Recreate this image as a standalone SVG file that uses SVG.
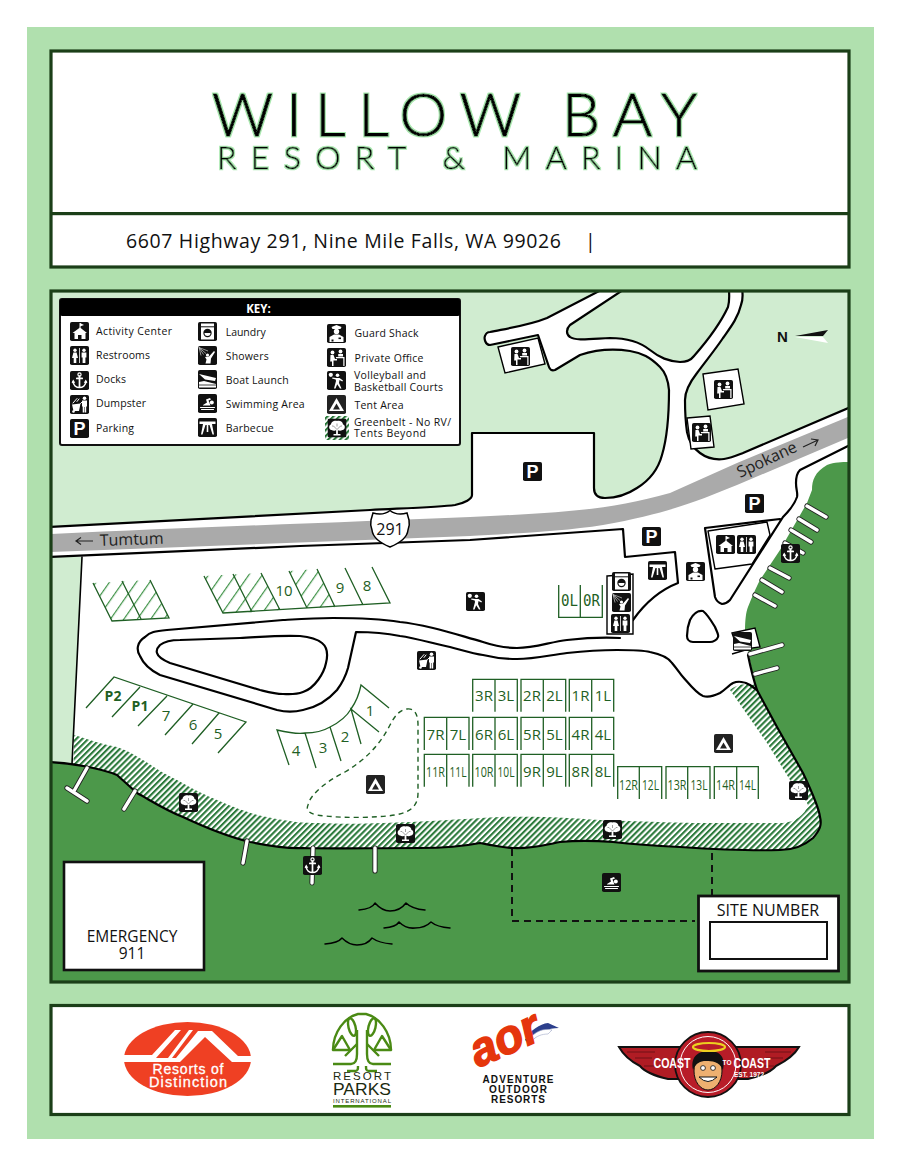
<svg xmlns="http://www.w3.org/2000/svg" width="899" height="1166" viewBox="0 0 899 1166">
<style>
text{font-family:"Open Sans","Noto Sans",sans-serif}
.panel{fill:#fff;stroke:#1b3f18;stroke-width:3.2}
.lg{fill:#d0ecd0;stroke:#000;stroke-width:2.2;stroke-linejoin:round}
.ln{fill:none;stroke:#000;stroke-width:2.2;stroke-linejoin:round;stroke-linecap:round}
.thin{fill:none;stroke:#000;stroke-width:1.4;stroke-linejoin:round}
.box{fill:#fff;stroke:#000;stroke-width:1.4}
.pier{fill:none;stroke:#222;stroke-width:5.2;stroke-linecap:round}
.pier2{fill:none;stroke:#fff;stroke-width:3.4;stroke-linecap:round}
.site{fill:none;stroke:#1f5f24;stroke-width:1.3}
.sl{fill:#1f5f24;font-size:15px;text-anchor:middle}
.key{font-size:10.5px;fill:#111}
.p{font-family:"Liberation Sans",sans-serif;font-weight:700;fill:#fff;font-size:18px;text-anchor:middle}
.w{fill:#fff}
.ws{fill:none;stroke:#fff;stroke-linecap:round;stroke-linejoin:round}
.title{font-family:Lato,sans-serif;font-weight:300;fill:#000;stroke:#000;stroke-width:1;filter:url(#halo)}
.logo{font-family:"Liberation Sans",sans-serif}
</style>
<defs>
<filter id="halo" x="-5%" y="-20%" width="110%" height="140%"><feMorphology in="SourceAlpha" operator="dilate" radius="1" result="d"/><feFlood flood-color="#a8e8ae"/><feComposite in2="d" operator="in"/><feMerge><feMergeNode/><feMergeNode in="SourceGraphic"/></feMerge></filter>
<clipPath id="mapclip"><rect x="51" y="291" width="798" height="691"/></clipPath>
<pattern id="belt" width="4.2" height="4.2" patternUnits="userSpaceOnUse" patternTransform="rotate(45)"><rect width="4.2" height="4.2" fill="#fff"/><rect width="2.1" height="4.2" fill="#2c7a3c"/></pattern>
<pattern id="sh" width="11" height="11" patternUnits="userSpaceOnUse" patternTransform="rotate(35)"><rect x="5" width="1.2" height="11" fill="#3f9247"/></pattern>
<symbol id="bg" viewBox="0 0 19 19"><rect width="19" height="19" rx="1.8" fill="#111"/></symbol>
<symbol id="i-activity" viewBox="0 0 19 19"><rect width="19" height="19" rx="1.8" fill="#111"/><path class="w" d="M2.5,11 L10,5.5 L17,11 L15.5,11 V17 H11.5 V13 H8 V17 H4.5 V11Z"/><path class="ws" stroke-width="1" d="M10,6 V1.5"/><path class="w" d="M10,1 L14,3 L10,4.5Z"/></symbol>
<symbol id="i-rest" viewBox="0 0 19 19"><rect width="19" height="19" rx="1.8" fill="#111"/><circle class="w" cx="5" cy="4.2" r="1.7"/><path class="w" d="M3.4,6.5 H6.6 L8,12 H6.3 V17 H3.7 V12 H2Z"/><rect class="w" x="9.1" y="2" width=".8" height="15"/><circle class="w" cx="14" cy="4.2" r="1.7"/><path class="w" d="M11.6,6.5 H16.4 V11.5 H15.4 V17 H12.6 V11.5 H11.6Z"/></symbol>
<symbol id="i-anchor" viewBox="0 0 19 19"><rect width="19" height="19" rx="1.8" fill="#111"/><circle class="ws" stroke-width="1.2" cx="9.5" cy="3.5" r="1.6"/><path class="ws" stroke-width="1.7" d="M9.5,5 V16.5 M6.8,7.4 H12.2 M3,10.5 C3.5,14.5 6.5,16.5 9.5,16.5 C12.5,16.5 15.5,14.5 16,10.5"/><path class="w" d="M1.6,12 L3.2,8.5 L5.2,11.8Z M17.4,12 L15.8,8.5 L13.8,11.8Z"/></symbol>
<symbol id="i-dump" viewBox="0 0 19 19"><rect width="19" height="19" rx="1.8" fill="#111"/><circle class="w" cx="14.5" cy="3.2" r="1.8"/><path class="w" d="M12,5.5 H17 V11.5 H16.2 V17.5 H14.7 V12 H14.2 V17.5 H12.7 V11.5 H12Z"/><path class="w" d="M2,9.5 L10.5,8.5 L9,16 H3.5Z"/><circle class="w" cx="3.5" cy="16.5" r="1.3"/><path class="ws" stroke-width="1" d="M3,8 L7,3.5 M7,6.5 L9,4 M10.5,8.5 L12,7"/></symbol>
<symbol id="i-laundry" viewBox="0 0 19 19"><rect width="19" height="19" rx="1.8" fill="#111"/><rect class="w" x="3" y="1.5" width="13" height="16"/><rect x="3" y="4.3" width="13" height="1" fill="#111"/><circle cx="9.5" cy="11" r="4.2" fill="#111"/><path class="w" d="M6.5,11 A3,3 0 0 0 12.5,11Z"/></symbol>
<symbol id="i-shower" viewBox="0 0 19 19"><rect width="19" height="19" rx="1.8" fill="#111"/><path stroke="#ccc" stroke-width=".7" fill="none" d="M1,1.5 L10,5 M1,1.5 L8,7.5 M1,1.5 L5.5,8.5 M1,1.5 L3,9.5"/><circle class="w" cx="9.5" cy="9" r="1.6"/><path class="w" d="M7,11 L11,10.5 L16,5 L17,6 L13,12.5 L12.5,17.5 H7.5 L8.5,13.5Z"/></symbol>
<symbol id="i-boat" viewBox="0 0 19 19"><rect width="19" height="19" rx="1.8" fill="#111"/><path class="w" d="M1,4 L18,8 L17,11 L7,9.5Z M1,12 L6,11 L18,14 V17.5 H1Z"/><path stroke="#111" stroke-width=".8" d="M1,15 H18"/></symbol>
<symbol id="i-swim" viewBox="0 0 19 19"><rect width="19" height="19" rx="1.8" fill="#111"/><circle class="w" cx="13.8" cy="8.5" r="2"/><path class="w" d="M5,11 L9,8.5 L8,5.5 L12,4 L13,5.5 L10.5,6.5 L12.5,11.5 H5Z"/><path class="ws" stroke-width="1.1" d="M2.5,13.5 H16.5 M3.5,15.5 H15.5"/></symbol>
<symbol id="i-bbq" viewBox="0 0 19 19"><rect width="19" height="19" rx="1.8" fill="#111"/><path class="w" d="M1.5,3.5 H17.5 V6 H14 L16,16.5 H14.5 L11.5,7 H10.3 V14 H8.7 V7 H7.5 L4.5,16.5 H3 L5,6 H1.5Z"/></symbol>
<symbol id="i-guard" viewBox="0 0 19 19"><rect width="19" height="19" rx="1.8" fill="#111"/><path class="w" d="M4.5,3 L9.5,1 L14.5,3 L13.5,5 H5.5Z"/><circle class="w" cx="9.5" cy="7.5" r="2.7"/><path class="w" d="M2.5,18 V13 L7,10.5 H12 L16.5,13 V18Z"/><rect x="11.5" y="13.5" width="2.5" height="1.6" fill="#111"/><rect x="4.5" y="15.5" width="2" height="2" fill="#111"/></symbol>
<symbol id="i-office" viewBox="0 0 19 19"><rect width="19" height="19" rx="1.8" fill="#111"/><circle class="w" cx="5.5" cy="4.5" r="1.9"/><circle class="w" cx="13.5" cy="3.5" r="1.9"/><path class="w" d="M3.5,7 H6.5 L8,11 H10 V12.5 H6.5 V18 H5 V13.5 H3.2Z"/><path class="w" d="M11.2,6 H16 V8.5 H11.2Z M9,9 H17.5 V18 H16.3 V10.2 H9Z"/></symbol>
<symbol id="i-vball" viewBox="0 0 19 19"><rect width="19" height="19" rx="1.8" fill="#111"/><circle class="w" cx="3.8" cy="3.8" r="2.1"/><circle class="w" cx="10.5" cy="4.2" r="1.8"/><path class="w" d="M5.5,6.5 L9,7 H12.5 L16,9.5 L15.3,10.5 L12.5,9 L12,12 L14.5,17.5 H13 L10.2,13.2 L8.5,17.5 H7 L9,10 L8.7,8.5 L5,7.5Z"/></symbol>
<symbol id="i-tent" viewBox="0 0 19 19"><rect width="19" height="19" rx="1.8" fill="#222"/><path class="w" d="M9.5,3 L17,16 H2Z"/><path fill="#222" d="M9.5,8.5 L13,14.5 H6Z"/></symbol>
<symbol id="i-tree" viewBox="0 0 19 19"><rect width="19" height="19" rx="1.8" fill="#111"/><path class="w" d="M4,11.5 C1,11 1,6.5 3.5,6 C3.5,2.5 8,1.5 9.5,2.5 C11.5,1.5 15.5,2.5 15.5,6 C18,6.5 18,11 15,11.5 C13,12.8 11,12 10.4,11.8 V15.5 H13 V17 H6 V15.5 H8.6 V11.8 C8,12 6,12.8 4,11.5Z"/><path stroke="#777" stroke-width=".7" fill="none" d="M9.5,11 L6,7.5 M9.5,11 L13,7.5 M9.5,8 V5 M6,7.5 L4.5,7.5 M13,7.5 L14.5,7.5"/></symbol>
</defs>

<rect width="899" height="1166" fill="#fff"/>
<rect x="27" y="27" width="847" height="1112" fill="#b0e0ae"/>

<g id="header">
<rect class="panel" x="51" y="51" width="798" height="216"/>
<rect x="51" y="212" width="798" height="3.2" fill="#1b3f18"/>
<text class="title" x="212" y="136" font-size="60" textLength="485">WILLOW BAY</text>
<text class="title" x="217" y="169" font-size="32" textLength="480" style="stroke-width:.5">RESORT &amp; MARINA</text>
<text x="126" y="248" font-size="19.5" fill="#111" textLength="435">6607 Highway 291, Nine Mile Falls, WA 99026</text>
<text x="585" y="248" font-size="19.5" fill="#111">|</text>
</g>

<g id="map" clip-path="url(#mapclip)">
<rect x="51" y="291" width="798" height="691" fill="#fff"/>
<g id="north-land">
<path class="lg" d="M40,527.5 L370,510 C410,508 440,507 455,505 C465,503 472,499 472,495 V433 H594 V488 C594,495 598,498 605,498 C618,498 628,494 637,488 C650,480 658,470 662,455 C668,435 669,410 669,390 C668,378 665,372 660,367 C650,357 642,353 630,351 C610,348 595,350 580,355 L555,370 C552,371 550,370 549,367 L538,335 L490,345 C485,345 484,338 485,336 C486,333 488,332 490,332 C510,328 530,325 547,318 L605,288 H40Z"/>
<path class="lg" d="M626,288 L570,325 C566,329 566,334 570,337 C575,341 590,339 610,338 C625,338 640,342 650,350 C660,358 668,361 680,362 C686,362 691,360 694,356 C708,340 722,320 728,307 C730,300 729,295 729,288Z"/>
<path class="lg" d="M742,288 C743,295 743,300 741,305 C738,318 730,328 723,338 C715,350 705,362 697,373 C690,382 685,390 685,400 C685,415 686,425 687,432 C689,442 693,448 700,453 C708,459 716,460 724,459 C732,458 738,455 743,453 L860,403 V288Z"/>
</g>
<path d="M52,557 L82,557 L72,764 L52,763Z" fill="#d0ecd0"/>
<path d="M82,557 L72,764" class="ln" style="stroke-width:1.6"/>

<g id="highway">
<path fill="#aaa" d="M50,534 C200,527 350,522 470,517 C560,513 610,510 670,493 L737,463 L850,416 V437 L737,485 C700,500 670,513 603,525 C560,532 500,534 470,536 L50,552Z"/>
<path class="ln" d="M50,557 L300,546 L470,540 L623,529 L625,557 L675,552 L678,583 C660,590 645,603 633,620"/>
<text x="100" y="546" font-size="16" fill="#222" transform="rotate(-2 100 546)">Tumtum</text>
<path fill="none" stroke="#222" stroke-width="1.2" d="M93,541 H76 M81,537.5 L76,541 L81,544.5"/>
<text x="740" y="478" font-size="16" fill="#222" transform="rotate(-25 740 478)">Spokane</text>
<path fill="none" stroke="#222" stroke-width="1.2" d="M803,447 L818,440 M811,439 L818,440 L815,446"/>
</g>

<g id="greenbelt"><path fill="url(#belt)" d="M74,735 C90,740 105,745 117,747 C140,755 155,770 177,780 C195,790 205,795 217,800 C240,810 255,815 267,817 C290,822 305,823 317,823 C340,824 360,824 383,823 C420,822 460,819 500,817 C540,816 570,818 600,820 C650,822 690,823 700,823 L783,823 C795,822 805,815 808,805 C805,798 797,790 790,780 L767,743 L730,690 C738,683 748,684 757,685 L790,720 L830,820 L800,860 L72,860Z"/></g>

<g id="water">
<path fill="#4c984a" d="M50,762 C70,763 100,768 117,775 L137,793 C150,800 165,810 183,817 C200,825 225,836 250,842 C270,846 290,849 303,848 C330,849 370,848 420,848 C445,848 465,846 480,843 C495,846 505,848 513,848 C530,849 545,845 560,842 C580,840 600,841 613,842 C640,845 660,846 680,847 C710,849 750,851 780,850 C795,850 805,845 813,838 C820,830 822,825 820,817 C819,808 811,790 803,773 L777,727 L757,690 C752,675 748,650 745,630 C745,620 746,612 748,607 C752,597 755,590 760,580 L780,550 L807,503 L812,490 C812,480 815,472 827,465 C835,462 842,462 850,462 V982 H50Z"/>
<path class="ln" d="M50,762 C70,763 100,768 117,775 L137,793 C150,800 165,810 183,817 C200,825 225,836 250,842 C270,846 290,849 303,848 C330,849 370,848 420,848 C445,848 465,846 480,843 C495,846 505,848 513,848 C530,849 545,845 560,842 C580,840 600,841 613,842 C640,845 660,846 680,847 C710,849 750,851 780,850 C795,850 805,845 813,838 C820,830 822,825 820,817 C819,808 811,790 803,773 L777,727 L757,690 C753,678 750,665 748,655"/>
</g>

<g id="roads">
<path class="ln" d="M620,638 C600,637 585,638 567,640 C550,642 535,648 517,648 C505,648 495,646 483,642 C465,637 450,632 433,628 C420,625 410,623 400,622 C375,618 350,618 333,618 C315,618 300,619 283,620 L167,630 C155,631 150,632 145,637 C137,642 136,650 140,656 C143,663 150,670 160,675 L277,710 C285,712 295,712 303,710 C318,707 330,698 337,690 C343,682 346,675 348,668 L356,632 C370,632 385,633 400,636 C415,638 435,644 450,647 C465,651 475,654 483,655 C495,658 505,659 517,659 C535,659 550,655 567,653 C585,651 600,650 617,650 C630,650 642,650 650,652 C660,654 668,657 672,663 C678,670 680,674 683,677 C690,685 697,694 703,696 C710,698 716,695 720,693 C725,690 729,685 733,683 C738,681 745,682 750,685 L757,690"/>
<path class="ln" d="M160,645 C165,641 170,640 180,640 L240,638 C260,637 280,635 300,636 C310,637 317,639 322,643 C327,647 328,655 326,663 C324,673 315,688 303,692 C295,695 288,694 283,694 C275,694 268,692 260,690 L170,663 C163,660 158,657 157,653 C156,650 157,648 160,645Z"/>
<path class="ln" d="M703,611 C708,615 712,622 715,627 C717,632 719,635 718,637 C717,640 713,642 710,642 L693,642 C689,642 687,639 687,636 C687,630 688,625 690,620 C693,614 698,610 703,611Z"/>
<path class="ln" d="M850,445 L800,470 C797,473 796,478 796,483 C796,490 798,493 797,497 C795,503 790,510 783,517 L730,600 C727,603 724,604 722,604 C719,603 716,600 715,597 L705,528 L780,519"/>
<path class="thin" d="M708,531 L767,522 L770,535 L752,564 L715,569Z"/>
</g>

<g id="piers">
<path class="pier" d="M807,506 L826,517 M799,519 L817,530 M791,530 L811,542 M785,543 L803,553 M770,568 L789,578 M762,580 L782,592 M755,595 L775,606 M750,654 L782,645 M755,674 L777,668 M87,768 L74,791 M67,788 L87,801 M135,791 L124,809 M247,841 L243,863 M375,848 V871 M313,848 L312,883"/>
<path class="pier2" d="M807,506 L826,517 M799,519 L817,530 M791,530 L811,542 M785,543 L803,553 M770,568 L789,578 M762,580 L782,592 M755,595 L775,606 M750,654 L782,645 M755,674 L777,668 M87,768 L74,791 M67,788 L87,801 M135,791 L124,809 M247,841 L243,863 M375,848 V871 M313,848 L312,883"/>
</g>

<g id="buildings">
<path class="box" d="M498,347 L538,338 L545,364 L505,373Z"/>
<path class="box" d="M703,374 L738,369 L744,404 L708,410Z"/>
<path class="box" d="M687,418 L710,416 L714,447 L691,449Z"/>
<path class="box" d="M607,576 L633,574 V634 H607Z"/>
<path class="box" d="M732,633 L755,628 L760,647 L738,650Z"/>
<path class="thin" d="M732,654 L752,648"/>
</g>

<g id="sites">
<path fill="url(#sh)" d="M93,583 L150,580 L169,618 L112,621Z M204,576 L261,573 L280,610 L223,613Z M289,571 L317,569 L335,607 L307,608Z"/>
<path class="site" d="M93,583 L112,621 L169,618 L150,580 M122,581 L141,619"/>
<path class="site" d="M204,576 L223,613 L390,603 L372,567 M233,574 L252,612 M261,573 L280,610 M289,571 L307,608 M317,569 L335,607 M345,568 L363,605"/>
<path class="site" d="M86,708 L114,677 L246,722 L218,753 M140,687 L112,717 M167,696 L138,726 M193,704 L165,735 M219,713 L192,744"/>
<path class="site" d="M289,765 L277,730 C290,733 300,734 305,733 C315,733 325,730 330,727 C340,722 347,716 351,709 C356,702 359,695 361,685 L389,708 M316,768 L305,733 M341,761 L330,727 M361,744 L351,709 L379,732"/>
<path d="M407,709 C415,708 418,715 418,725 L418,793 C418,805 412,812 395,815 C375,818 345,818 325,816 C312,815 305,812 308,805 C310,795 325,782 345,772 C365,760 380,745 390,725 C395,715 400,710 407,709Z" fill="none" stroke="#1f5f24" stroke-width="1.4" stroke-dasharray="5 4"/>
<path class="site" d="M472.7,711.7 V679.3 H517.3 V711.7 M495,679.3 V711.7 M521,711.7 V679.3 H565.7 V711.7 M543.3,679.3 V711.7 M569.3,711.7 V679.3 H613.7 V711.7 M591.7,679.3 V711.7"/>
<path class="site" d="M424.3,750 V717.3 H469 V750 M446.7,717.3 V750 M472.7,750 V717.3 H517.3 V750 M495,717.3 V750 M521,750 V717.3 H565.7 V750 M543.3,717.3 V750 M569.3,750 V717.3 H613.7 V750 M591.7,717.3 V750"/>
<path class="site" d="M424.3,786.7 V754.3 H469 V786.7 M446.7,754.3 V786.7 M472.7,786.7 V754.3 H517.3 V786.7 M495,754.3 V786.7 M521,786.7 V754.3 H565.7 V786.7 M543.3,754.3 V786.7 M569.3,786.7 V754.3 H613.7 V786.7 M591.7,754.3 V786.7"/>
<path class="site" d="M617.7,799 V766.7 H661.7 V799 M639.3,766.7 V799 M666,799 V766.7 H710 V799 M687.7,766.7 V799 M714.3,799 V766.7 H758.3 V799 M736.7,766.7 V799"/>
<path class="site" d="M558.7,585 V617.3 H602.3 V585 M580.3,585 V617.3"/>
<text class="sl" x="284" y="596">10</text><text class="sl" x="340" y="593">9</text><text class="sl" x="367" y="591">8</text>
<text class="sl" x="113" y="701" style="font-weight:700;font-size:14px">P2</text><text class="sl" x="140" y="711" style="font-weight:700;font-size:14px">P1</text>
<text class="sl" x="166" y="721">7</text><text class="sl" x="193" y="730">6</text><text class="sl" x="218" y="739">5</text>
<text class="sl" x="370" y="716">1</text><text class="sl" x="345" y="742">2</text><text class="sl" x="323" y="753">3</text><text class="sl" x="296" y="756">4</text>
<text class="sl" style="font-family:'DejaVu Sans Mono',monospace;font-size:16px" x="569.5" y="606" textLength="17" lengthAdjust="spacingAndGlyphs">0L</text><text class="sl" style="font-family:'DejaVu Sans Mono',monospace;font-size:16px" x="591.5" y="606" textLength="17" lengthAdjust="spacingAndGlyphs">0R</text>
<text class="sl" x="484" y="701">3R</text><text class="sl" x="506" y="701">3L</text><text class="sl" x="532" y="701">2R</text><text class="sl" x="554.5" y="701">2L</text><text class="sl" x="580.5" y="701">1R</text><text class="sl" x="603" y="701">1L</text>
<text class="sl" x="435.5" y="740">7R</text><text class="sl" x="458" y="740">7L</text><text class="sl" x="484" y="740">6R</text><text class="sl" x="506" y="740">6L</text><text class="sl" x="532" y="740">5R</text><text class="sl" x="554.5" y="740">5L</text><text class="sl" x="580.5" y="740">4R</text><text class="sl" x="603" y="740">4L</text>
<text class="sl" x="435.5" y="777" textLength="19" lengthAdjust="spacingAndGlyphs">11R</text><text class="sl" x="458" y="777" textLength="17" lengthAdjust="spacingAndGlyphs">11L</text><text class="sl" x="484" y="777" textLength="19" lengthAdjust="spacingAndGlyphs">10R</text><text class="sl" x="506" y="777" textLength="17" lengthAdjust="spacingAndGlyphs">10L</text><text class="sl" x="532" y="777">9R</text><text class="sl" x="554.5" y="777">9L</text><text class="sl" x="580.5" y="777">8R</text><text class="sl" x="603" y="777">8L</text>
<text class="sl" x="628.5" y="790" textLength="19" lengthAdjust="spacingAndGlyphs">12R</text><text class="sl" x="650.5" y="790" textLength="17" lengthAdjust="spacingAndGlyphs">12L</text><text class="sl" x="677" y="790" textLength="19" lengthAdjust="spacingAndGlyphs">13R</text><text class="sl" x="699" y="790" textLength="17" lengthAdjust="spacingAndGlyphs">13L</text><text class="sl" x="725.5" y="790" textLength="19" lengthAdjust="spacingAndGlyphs">14R</text><text class="sl" x="747.5" y="790" textLength="17" lengthAdjust="spacingAndGlyphs">14L</text>
</g>

<g id="shield">
<path fill="#fff" stroke="#000" stroke-width="1.5" d="M390,510.5 Q383,516 373,513 L371,520 Q370,525 372,530 Q373,540 390,547 Q407,540 408,530 Q410,525 409,520 L407,513 Q397,516 390,510.5Z"/>
<text x="390" y="535" font-size="16" fill="#111" text-anchor="middle">291</text>
</g>

<g id="north">
<text x="777" y="342" font-size="15" font-weight="700" fill="#111" style="font-family:'Liberation Sans',sans-serif">N</text>
<path fill="#111" d="M795,336 L828,330 L823,336Z"/><path fill="#fff" d="M795,337 L823,337 L828,343Z"/>
</g>

<g id="waves" class="ln" style="stroke-width:1.5">
<path fill="none" d="M359,910 Q372,909 375,903 Q382,911 390,911 Q400,911 406,903 Q412,909 425,910"/>
<path fill="none" d="M384,928 Q396,927 399,922 Q406,929 415,928 Q425,928 431,922 Q437,927 450,928"/>
<path fill="none" d="M325,944 Q338,943 342,938 Q349,945 357,945 Q367,945 372,938 Q379,943 392,944"/>
</g>
<path d="M512,849 V921 H695 M712,853 V895" fill="none" stroke="#111" stroke-width="2" stroke-dasharray="7 5"/>

<g id="icons">
<use href="#i-office" x="511" y="347" width="19" height="19"/>
<use href="#i-office" x="714" y="380" width="19" height="19"/>
<use href="#i-office" x="692" y="423" width="19" height="19"/>
<use href="#bg" x="523" y="462" width="19" height="19"/><text class="p" x="532.5" y="478">P</text>
<use href="#bg" x="745" y="494" width="19" height="19"/><text class="p" x="754.5" y="510">P</text>
<use href="#bg" x="642" y="527" width="19" height="19"/><text class="p" x="651.5" y="543">P</text>
<use href="#i-bbq" x="648" y="561" width="19" height="19"/>
<use href="#i-guard" x="686" y="562" width="19" height="19"/>
<use href="#i-activity" x="716" y="535" width="19" height="19"/>
<use href="#i-rest" x="737" y="535" width="19" height="19"/>
<use href="#i-anchor" x="781" y="544" width="19" height="19"/>
<use href="#i-laundry" x="612" y="572" width="19" height="19"/>
<use href="#i-shower" x="612" y="593" width="19" height="19"/>
<use href="#i-rest" x="611" y="614" width="19" height="19"/>
<use href="#i-vball" x="466" y="592" width="19" height="19"/>
<use href="#i-dump" x="417" y="651" width="19" height="19"/>
<use href="#i-boat" x="733" y="632" width="19" height="19"/>
<use href="#i-tent" x="366" y="775" width="19" height="19"/>
<use href="#i-tent" x="714" y="734" width="19" height="19"/>
<use href="#i-tree" x="179" y="793" width="19" height="19"/>
<use href="#i-tree" x="396" y="824" width="19" height="19"/>
<use href="#i-tree" x="603" y="820" width="19" height="19"/>
<use href="#i-tree" x="789" y="781" width="19" height="19"/>
<use href="#i-anchor" x="303" y="856" width="19" height="19"/>
<use href="#i-swim" x="602" y="873" width="19" height="19"/>
</g>

<g id="emergency">
<rect x="64" y="862" width="140" height="108" fill="#fff" stroke="#111" stroke-width="2.6"/>
<text x="132" y="942" font-size="15.5" fill="#111" text-anchor="middle">EMERGENCY</text>
<text x="132" y="959" font-size="15.5" fill="#111" text-anchor="middle">911</text>
</g>
<g id="site-number">
<rect x="698.5" y="896" width="140" height="75" fill="#fff" stroke="#111" stroke-width="2.8"/>
<rect x="710" y="922" width="117" height="37" fill="#fff" stroke="#111" stroke-width="2"/>
<text x="768" y="916" font-size="16" fill="#111" text-anchor="middle">SITE NUMBER</text>
</g>

<g id="key">
<rect x="60" y="299" width="400" height="146" rx="2" fill="#fff" stroke="#111" stroke-width="2"/>
<rect x="60" y="299" width="400" height="17" rx="2" fill="#000"/>
<text x="258.5" y="312.5" font-size="11.5" font-weight="700" fill="#fff" text-anchor="middle">KEY:</text>
<use href="#i-activity" x="70" y="322" width="19" height="19"/><text class="key" x="96" y="335" textLength="76">Activity Center</text>
<use href="#i-rest" x="70" y="346" width="19" height="19"/><text class="key" x="96" y="359.3" textLength="54">Restrooms</text>
<use href="#i-anchor" x="70" y="371" width="19" height="19"/><text class="key" x="96" y="383.3" textLength="30">Docks</text>
<use href="#i-dump" x="70" y="395" width="19" height="19"/><text class="key" x="96" y="407.3" textLength="50">Dumpster</text>
<use href="#bg" x="70" y="419" width="19" height="19"/><text class="p" x="79.5" y="435">P</text><text class="key" x="96" y="431.7" textLength="38">Parking</text>
<use href="#i-laundry" x="198" y="322" width="19" height="19"/><text class="key" x="225.7" y="336" textLength="40">Laundry</text>
<use href="#i-shower" x="198" y="346" width="19" height="19"/><text class="key" x="225.7" y="360" textLength="43">Showers</text>
<use href="#i-boat" x="198" y="370" width="19" height="19"/><text class="key" x="225.7" y="384" textLength="63">Boat Launch</text>
<use href="#i-swim" x="198" y="394" width="19" height="19"/><text class="key" x="225.7" y="408" textLength="79">Swimming Area</text>
<use href="#i-bbq" x="198" y="418" width="19" height="19"/><text class="key" x="225.7" y="432" textLength="48">Barbecue</text>
<use href="#i-guard" x="327" y="324" width="19" height="19"/><text class="key" x="354.5" y="337" textLength="64">Guard Shack</text>
<use href="#i-office" x="327" y="348" width="19" height="19"/><text class="key" x="354.5" y="361.7" textLength="69">Private Office</text>
<use href="#i-vball" x="327" y="371" width="19" height="19"/><text class="key" x="354" y="379" textLength="72">Volleyball and</text><text class="key" x="354" y="390.7" textLength="89">Basketball Courts</text>
<use href="#i-tent" x="327" y="395" width="19" height="19"/><text class="key" x="354.5" y="409" textLength="49">Tent Area</text>
<rect x="325" y="416" width="24" height="24" fill="url(#belt)"/><use href="#i-tree" x="327.5" y="418.5" width="19" height="19"/><text class="key" x="354" y="426" textLength="97">Greenbelt - No RV/</text><text class="key" x="354" y="437.3" textLength="72">Tents Beyond</text>
</g>
</g>
<rect x="51" y="291" width="798" height="691" fill="none" stroke="#1b3f18" stroke-width="3.2"/>

<g id="logos">
<rect class="panel" x="51" y="1005.5" width="798" height="109"/>
<g id="logo-resorts-of-distinction">
<ellipse cx="187.5" cy="1059" rx="63.5" ry="37" fill="#ef4023"/>
<path fill="#fff" d="M124,1055 H152 L175,1030 H181 L156,1058 H168 L189,1030 H193 L172,1058 H176 L198,1031 L212,1031 L238,1056 H251 V1062 H232 L205,1037 L180,1062 H124Z"/>
<text class="logo" x="188" y="1074" font-size="14" fill="#fff" stroke="#fff" stroke-width=".3" text-anchor="middle" textLength="71">Resorts of</text>
<text class="logo" x="188" y="1087" font-size="14.5" fill="#fff" stroke="#fff" stroke-width=".3" text-anchor="middle" textLength="78">Distinction</text>
</g>
<g id="logo-resort-parks">
<g fill="none" stroke="#4a8a14" stroke-width="2.4" stroke-linejoin="round">
<path d="M333,1050 C333,1032 345,1017 358,1014 H366 C379,1017 391,1032 391,1050"/>
<path d="M333,1050 H350 L342,1036Z M391,1050 H374 L382,1036Z"/>
<ellipse cx="352" cy="1027" rx="3.5" ry="9" transform="rotate(-14 352 1027)"/>
<ellipse cx="372" cy="1027" rx="3.5" ry="9" transform="rotate(14 372 1027)"/>
<path d="M333,1064 H351 C355,1064 357,1060 357,1054 V1030 M391,1064 H373 C369,1064 367,1060 367,1054 V1030"/>
<path d="M347,1071 H355 C358,1071 358,1069 358,1066 M377,1071 H369 C366,1071 366,1069 366,1066"/>
<path d="M345,1056 L357,1044 M379,1056 L367,1044"/>
</g>
<text class="logo" x="362" y="1080" font-size="11.5" fill="#1b2a10" text-anchor="middle" textLength="58">RESORT</text>
<text class="logo" x="362" y="1095" font-size="16.5" fill="#1b2a10" text-anchor="middle" textLength="58" lengthAdjust="spacingAndGlyphs">PARKS</text>
<text class="logo" x="362" y="1103" font-size="6" fill="#1b2a10" text-anchor="middle" textLength="58">INTERNATIONAL</text>
<rect x="333" y="1105" width="58" height="2.6" fill="#4a8a14"/>
</g>
<g id="logo-aor">
<path fill="#2c3f8c" d="M525,1040 C530,1030 540,1024 548,1023 L559,1028 C548,1028 538,1032 530,1044Z"/>
<path fill="#fff" stroke="#a0a8c8" stroke-width=".6" d="M530,1038 C536,1031 544,1028 552,1030 L548,1034 C542,1034 536,1036 532,1041Z"/>
<text class="logo" x="478" y="1068" font-size="48" font-weight="700" font-style="italic" fill="#e5360c" stroke="#e5360c" stroke-width="1.6" transform="rotate(-24 478 1068)" textLength="72" lengthAdjust="spacingAndGlyphs">aor</text>
<text class="logo" x="518" y="1083" font-size="10" font-weight="700" fill="#111" text-anchor="middle" textLength="71">ADVENTURE</text>
<text class="logo" x="518" y="1093" font-size="10" font-weight="700" fill="#111" text-anchor="middle" textLength="58">OUTDOOR</text>
<text class="logo" x="518" y="1103" font-size="10" font-weight="700" fill="#111" text-anchor="middle" textLength="54">RESORTS</text>
</g>
<g id="logo-coast">
<path fill="#b01c24" stroke="#111" stroke-width="2" d="M619,1047 H680 V1079 H668 C655,1076 645,1072 640,1066 C632,1062 624,1056 619,1047Z M799,1047 H736 V1079 H748 C761,1076 771,1072 776,1066 C784,1062 794,1056 799,1047Z"/>
<path fill="none" stroke="#701016" stroke-width="1.2" d="M627,1052 H655 M635,1058 H652 M644,1066 H654 M791,1052 H765 M783,1058 H766 M774,1066 H764"/>
<ellipse cx="708" cy="1064.500" rx="33" ry="32.500" fill="#b81c28" stroke="#111" stroke-width="1.8"/>
<ellipse cx="708" cy="1064.500" rx="28" ry="28" fill="none" stroke="#fff" stroke-width="1"/>
<ellipse cx="708" cy="1071" rx="14" ry="19" fill="#eeb070" stroke="#111" stroke-width="1"/>
<path fill="#111" d="M693,1070 C690,1056 699,1051 709,1051 C719,1051 726,1056 723,1070 C719,1061 712,1061 706,1061 C700,1061 696,1063 693,1070Z"/>
<circle cx="703" cy="1068" r="2.4" fill="#fff" stroke="#111" stroke-width=".8"/><circle cx="713" cy="1068" r="2.4" fill="#fff" stroke="#111" stroke-width=".8"/>
<path fill="#fff" stroke="#111" stroke-width="1" d="M699,1077 Q708,1086 717,1077Z"/>
<ellipse cx="709" cy="1047" rx="16" ry="4" fill="none" stroke="#ecd020" stroke-width="2.2"/>
<text class="logo" x="672" y="1068" font-size="15" font-weight="700" fill="#fff" text-anchor="middle" textLength="37" lengthAdjust="spacingAndGlyphs">COAST</text>
<text class="logo" x="752" y="1068" font-size="15" font-weight="700" fill="#fff" text-anchor="middle" textLength="37" lengthAdjust="spacingAndGlyphs">COAST</text>
<text class="logo" x="727" y="1065" font-size="6.5" font-weight="700" fill="#fff" text-anchor="middle">TO</text>
<text class="logo" x="749" y="1077" font-size="6.5" font-weight="700" fill="#fff" text-anchor="middle">EST. 1972</text>
</g>
</g>
</svg>
